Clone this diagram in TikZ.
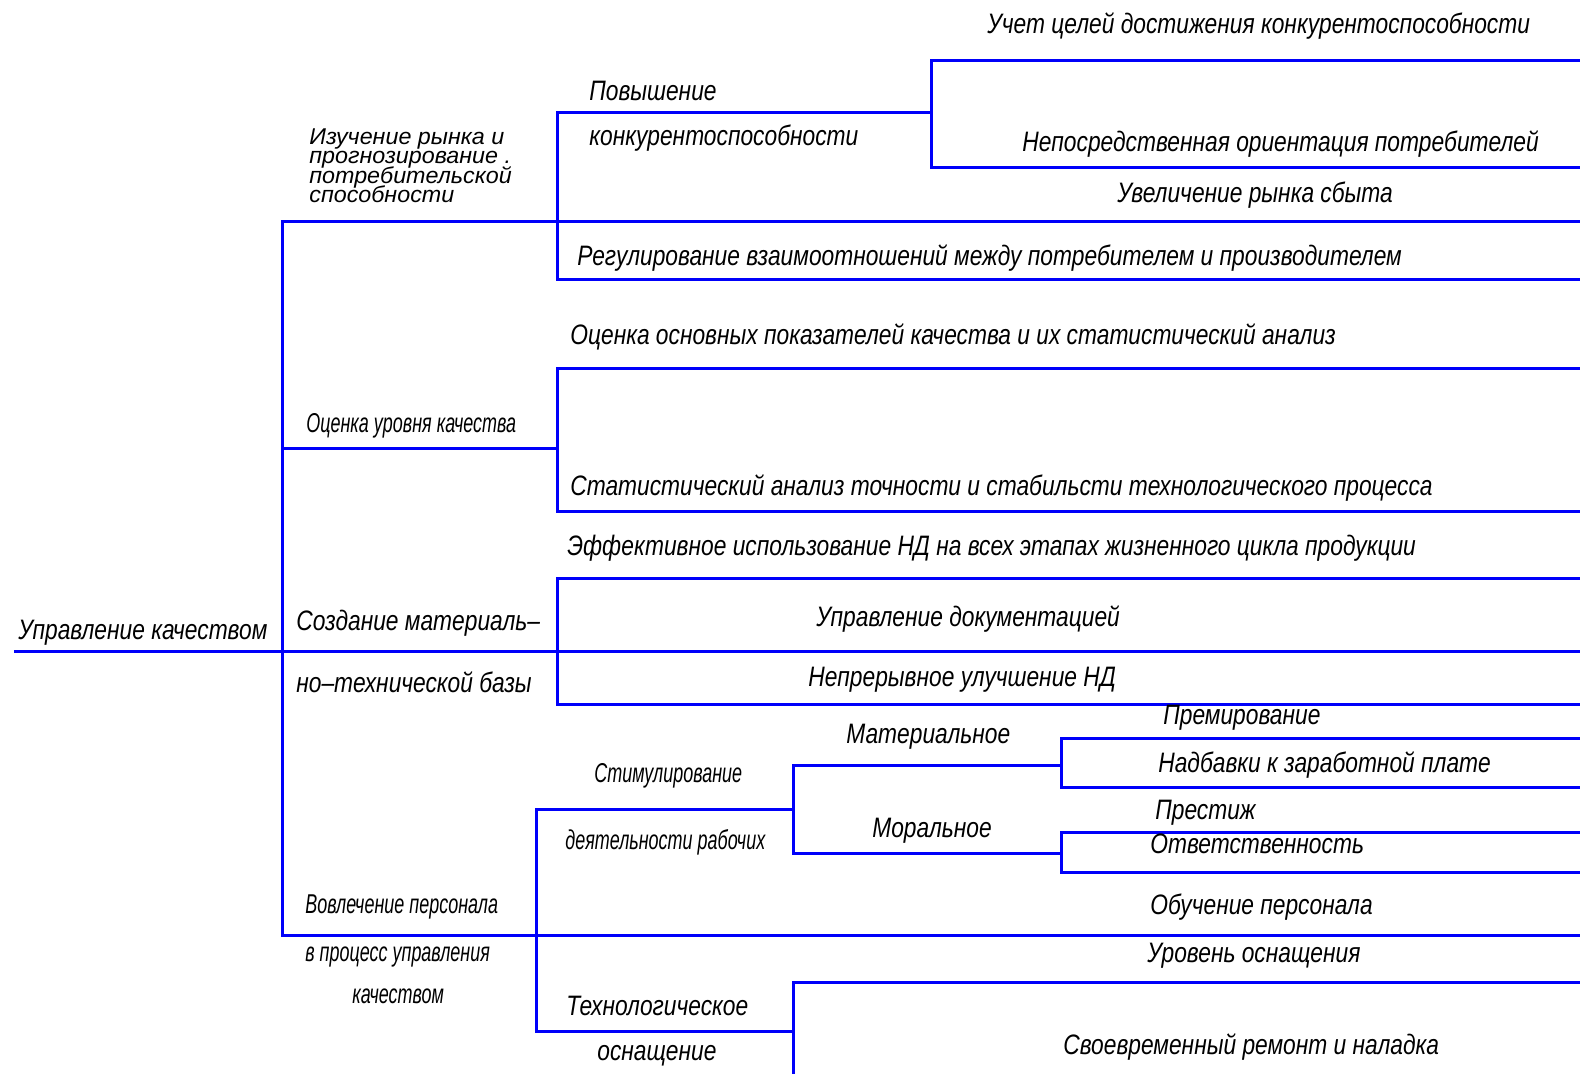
\documentclass[tikz,border=0pt]{standalone}
\usepackage{fontspec}
\setmainfont{Liberation Sans}[FakeStretch=0.81]
\newfontfamily\gostnarrow{Liberation Sans}[FakeStretch=0.66]
\newfontfamily\gostwide{Liberation Sans}[FakeStretch=1.02]
\newcommand\tightlines{\setlength{\lineskiplimit}{-20pt}}
\usepackage{tikz}
\usetikzlibrary{positioning}
\definecolor{qmblue}{RGB}{0,0,250}
\tikzstyle{treeline} = [line width=0.06cm, color=qmblue, line cap=rect]
\tikzstyle{lbl} = [inner sep=0pt, anchor=base west, font=\itshape\fontsize{16}{19}\selectfont]
\tikzstyle{lbln} = [inner sep=0pt, anchor=base west, font=\gostnarrow\itshape\fontsize{15.5}{18}\selectfont]

\begin{document}
\begin{tikzpicture}[x=0.02cm,y=-0.02cm]
\fill[white] (0,0) rectangle (1580,1073);
\useasboundingbox (0,0) rectangle (1580,1073);

% junctions
\coordinate (root) at (15,651);
\coordinate (rootE) at (1580,651);
\coordinate (trT) at (282,221);
\coordinate (trB) at (282,935);
% branch 1: market
\coordinate (m1) at (557,221);
\coordinate (m1E) at (1580,221);
\coordinate (pv) at (557,112);
\coordinate (pvJ) at (931,112);
\coordinate (uc) at (1580,60);
\coordinate (np) at (1580,167);
\coordinate (rg) at (1580,279);
% branch 2: evaluation
\coordinate (ev) at (282,448);
\coordinate (evJ) at (557,448);
\coordinate (oc) at (1580,368);
\coordinate (st) at (1580,511);
% branch 3: base
\coordinate (bsJ) at (557,651);
\coordinate (ef) at (1580,578);
\coordinate (nr) at (1580,704);
% branch 4: personnel
\coordinate (prE) at (1580,935);
\coordinate (sbT) at (536,809);
\coordinate (sbB) at (536,1031);
\coordinate (stJ) at (793,809);
\coordinate (mtJ) at (1061,765);
\coordinate (mrJ) at (1061,853);
\coordinate (pm) at (1580,738);
\coordinate (nd) at (1580,787);
\coordinate (ps) at (1580,832);
\coordinate (ot) at (1580,872);
\coordinate (thJ) at (793,1031);
\coordinate (ur) at (1580,982);
\coordinate (thE) at (793,1073);

% Lines
\draw[treeline] (root) -- (rootE);
\draw[treeline] (trT) -- (trB);
\draw[treeline] (trT) -- (m1E);
\draw[treeline] (pvJ) -- (pv) |- (rg);
\draw[treeline] (uc) -| (pvJ) |- (np);
\draw[treeline] (ev) -- (evJ);
\draw[treeline] (oc) -| (evJ) |- (st);
\draw[treeline] (ef) -| (bsJ) |- (nr);
\draw[treeline] (trB) -- (prE);
\draw[treeline] (sbT) -- (sbB);
\draw[treeline] (sbT) -- (stJ);
\draw[treeline] (mtJ) -| (stJ) |- (mrJ);
\draw[treeline] (pm) -| (mtJ) |- (nd);
\draw[treeline] (ps) -| (mrJ) |- (ot);
\draw[treeline] (sbB) -- (thJ);
\draw[treeline] (ur) -| (thJ) -- (thE);

% Labels
\node[lbl] (upkach) at (18,639) {Управление качеством};
\node[inner sep=0pt, anchor=north west, align=left, font=\gostwide\itshape\fontsize{13}{11.1}\selectfont\tightlines] (izuch) at (309,128) {Изучение рынка и\\прогнозирование .\\потребительской\\способности};
\node[lbl] (povysh) at (589,100) {Повышение};
\node[lbl] (konkur) at (589,145) {конкурентоспособности};
\node[lbl] (uchet) at (987,33) {Учет целей достижения конкурентоспособности};
\node[lbl] (nepos) at (1022,151) {Непосредственная ориентация потребителей};
\node[lbl] (uvel) at (1117,202) {Увеличение рынка сбыта};
\node[lbl] (regul) at (577,265) {Регулирование взаимоотношений между потребителем и производителем};
\node[lbl] (ocosn) at (570,344) {Оценка основных показателей качества и их статистический анализ};
\node[lbln] (ocur) at (306,432) {Оценка уровня качества};
\node[lbl] (stat) at (570,495) {Статистический анализ точности и стабильсти технологического процесса};
\node[lbl] (effect) at (567,555) {Эффективное использование НД на всех этапах жизненного цикла продукции};
\node[lbl] (sozd) at (296,630) {Создание материаль–};
\node[lbl] (notech) at (296,692) {но–технической базы};
\node[lbl] (updoc) at (816,626) {Управление документацией};
\node[lbl] (nepr) at (808,686) {Непрерывное улучшение НД};
\node[lbl] (prem) at (1163,724) {Премирование};
\node[lbl] (mater) at (846,743) {Материальное};
\node[lbl] (nadb) at (1158,772) {Надбавки к заработной плате};
\node[lbln] (stim) at (594,782) {Стимулирование};
\node[lbl] (prest) at (1155,819) {Престиж};
\node[lbl] (moral) at (872,837) {Моральное};
\node[lbln] (deyat) at (565,849) {деятельности рабочих};
\node[lbl] (otv) at (1150,853) {Ответственность};
\node[lbln] (vovl) at (305,913) {Вовлечение персонала};
\node[lbl] (obuch) at (1150,914) {Обучение персонала};
\node[lbln] (vproc) at (305,961) {в процесс управления};
\node[lbl] (urov) at (1147,962) {Уровень оснащения};
\node[lbln] (kach) at (352,1003) {качеством};
\node[lbl] (tehn) at (566,1015) {Технологическое};
\node[lbl] (svoevr) at (1063,1054) {Своевременный ремонт и наладка};
\node[lbl] (osnasch) at (597,1060) {оснащение};
\end{tikzpicture}
\end{document}
